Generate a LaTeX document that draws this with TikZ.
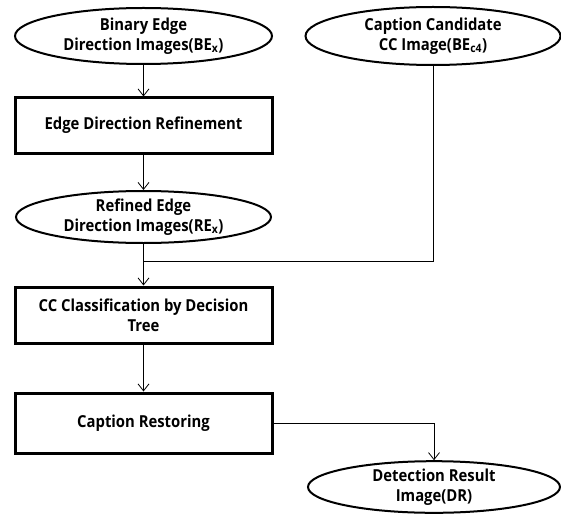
\documentclass[tikz,border=0pt]{standalone}
\usepackage{fontspec}
\newfontfamily\lblfont{Open Sans}[FakeStretch=0.9]
\usetikzlibrary{shapes.geometric,arrows.meta}
\begin{document}
\begin{tikzpicture}[x=1pt,y=-1pt,
  every node/.style={font=\lblfont\bfseries\fontsize{16.5}{20}\selectfont,align=center,inner sep=0pt},
  datanode/.style={ellipse,draw,line width=2pt},
  procbox/.style={rectangle,draw,line width=3pt,minimum width=257pt},
  flow/.style={line width=0.8pt,-{Straight Barb[length=7pt,width=11pt]}},
  link/.style={line width=0.8pt}]
\useasboundingbox (0,0) rectangle (561,513);

% input images
\node[datanode,minimum width=257pt,minimum height=56pt] (be) at (143.5,36)
  {Binary Edge\\Direction Images(BE\textsubscript{x})};
\node[datanode,minimum width=255pt,minimum height=58pt] (cc) at (433,36)
  {Caption Candidate\\CC Image(BE\textsubscript{c4})};

% refinement stage
\node[procbox,minimum height=55pt] (edr) at (143.5,125.5) {Edge Direction Refinement};
\node[datanode,minimum width=255pt,minimum height=52pt] (re) at (143.5,217)
  {Refined Edge\\Direction Images(RE\textsubscript{x})};

% classification and restoring
\node[procbox,minimum height=56pt] (ccl) at (143.5,315) {CC Classification by Decision\\Tree};
\node[procbox,minimum height=60pt] (cr) at (143.5,423) {Caption Restoring};

% output image
\node[datanode,minimum width=252pt,minimum height=50pt] (dr) at (434,487)
  {Detection Result\\Image(DR)};

\coordinate (j) at (143.5,261);

\draw[flow] (be) -- (edr);
\draw[flow] (edr) -- (re);
\draw[flow] (re) -- (ccl);
\draw[flow] (ccl) -- (cr);
\draw[link] (cc.south) |- (j);
\draw[flow] (cr.east) -| (dr.north);
\end{tikzpicture}
\end{document}
